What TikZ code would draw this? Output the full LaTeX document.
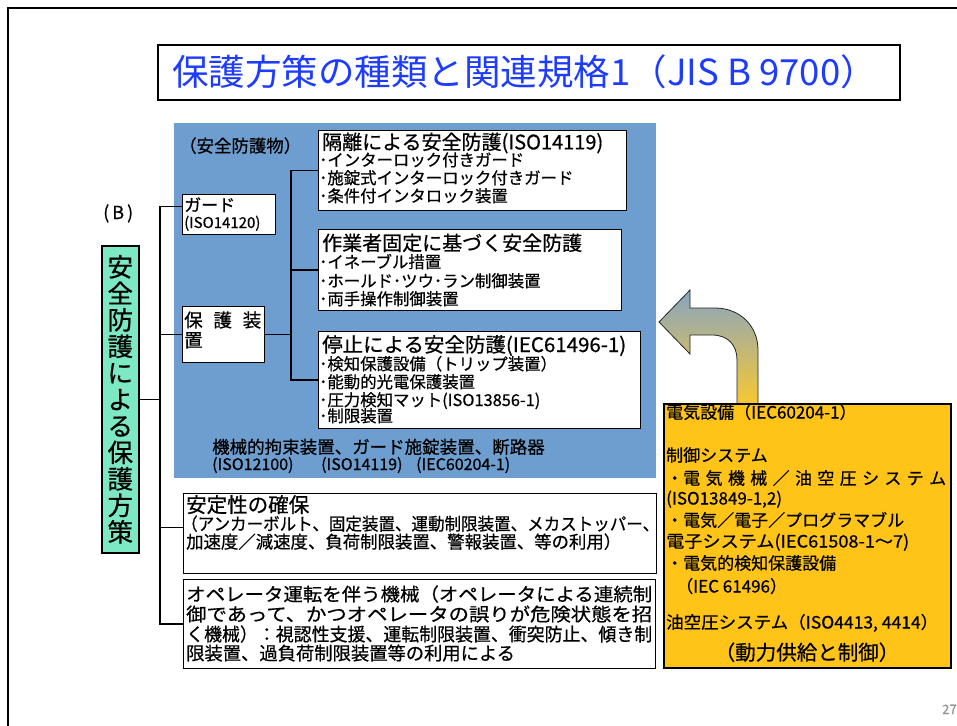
\documentclass[tikz,border=0pt]{standalone}
\usepackage{fontspec}
\setmainfont{Noto Sans CJK JP}[FakeBold=0.6]
\newfontfamily\titlefont{Noto Sans CJK JP}
\usepackage{graphicx}
\definecolor{panelblue}{RGB}{109,158,207}
\definecolor{mint}{RGB}{124,232,196}
\definecolor{gold}{RGB}{255,196,23}
\definecolor{titleblue}{RGB}{30,60,255}
\definecolor{arrowtop}{RGB}{135,165,195}
\definecolor{arrowbot}{RGB}{248,200,50}
\definecolor{pagegray}{RGB}{150,150,150}
\tikzset{
  box/.style={draw=black, fill=white, line width=1pt, inner sep=0pt, anchor=north west},
  conn/.style={draw=black, line width=1.1pt},
  tx/.style={anchor=base west, inner sep=0pt},
}
\newcommand\fs[1]{\fontsize{#1}{#1}\selectfont}
\newcommand\hw[2]{\resizebox{#1pt}{\height}{#2}}
\begin{document}
\begin{tikzpicture}[x=1pt,y=-1pt]
\useasboundingbox (0,0) rectangle (957,725);
\fill[white] (0,0) rectangle (957,725);
\draw[line width=2.2pt] (8,740) -- (8,8) -- (970,8);

% title
\node[draw, line width=2.2pt, minimum width=742pt, minimum height=55pt, inner sep=0pt, anchor=north west] (titlebox) at (157,44) {};
\node[anchor=base, inner sep=0pt, text=titleblue, font=\titlefont\fs{36}] (title) at (524.5,85) {\hw{705}{保護方策の種類と関連規格1（JIS B 9700）}};

% panel
\node[fill=panelblue, minimum width=482pt, minimum height=355pt, inner sep=0pt, anchor=north west] (panel) at (174,123) {};

% boxes
\node[box, minimum width=308pt, minimum height=80pt] (kakuri) at (318,130) {};
\node[box, minimum width=93pt, minimum height=40pt] (guard) at (182,194) {};
\node[box, minimum width=303pt, minimum height=81pt] (sagyo) at (318,229) {};
\node[box, minimum width=82pt, minimum height=56pt] (hogo) at (182,306) {};
\node[box, minimum width=322pt, minimum height=97pt] (teishi) at (318,331) {};
\node[box, minimum width=473pt, minimum height=80pt] (antei) at (183,493) {};
\node[box, minimum width=472pt, minimum height=89pt] (ope) at (183,579) {};

% arrow
\shadedraw[top color=arrowtop, bottom color=arrowbot, draw=black!85, line width=0.8pt]
  (737,404) -- (737,360) .. controls (737,345) and (728,335) .. (712,335) -- (690,335)
  -- (690,354) -- (659,322) -- (690,290) -- (690,308) -- (715,308)
  .. controls (740,308) and (758,326) .. (758,350) -- (758,404) -- cycle;

\node[draw=black, fill=gold, line width=1.5pt, minimum width=287pt, minimum height=264pt, inner sep=0pt, anchor=north west] (yellow) at (663,403) {};
\node[draw=black, fill=mint, line width=1.6pt, minimum width=37pt, minimum height=307pt, inner sep=0pt, anchor=north west] (green) at (101,245) {};
\node[align=center, inner sep=0pt, font=\fontsize{25.5}{26.5}\selectfont] (greentext) at (green.center) {安\\全\\防\\護\\に\\よ\\る\\保\\護\\方\\策};

% connectors
\coordinate (trunkL) at (160,0);
\coordinate (trunkR) at (291,0);
\draw[conn] (green.east) -- (green.east -| trunkL);
\draw[conn] ([yshift=8pt]guard.west) -| (trunkL |- ope.west) -- (ope.west);
\draw[conn] (hogo.west) -- (hogo.west -| trunkL);
\draw[conn] ([yshift=6pt]antei.west) -- ([yshift=6pt]antei.west -| trunkL);
\draw[conn] (kakuri.west) -| (trunkR |- teishi.west) -- (teishi.west);
\draw[conn] (sagyo.west) -- (sagyo.west -| trunkR);
\draw[conn] (hogo.east) -- (hogo.east -| trunkR);

% texts
\node[tx, font=\fs{18}] (tB) at (103,219) {(\,B\,)};
\node[tx, font=\fs{17.5}] (t1) at (179,152.3) {\hw{122}{（安全防護物）}};
\node[tx, font=\fs{20}] (t2) at (322,149.4) {隔離による安全防護(ISO14119)};
\node[tx, font=\fs{16.4}] (t3) at (319,166) {･インターロック付きガード};
\node[tx, font=\fs{16.4}] (t4) at (319,184) {･施錠式インターロック付きガード};
\node[tx, font=\fs{16.4}] (t5) at (319,202) {･条件付インタロック装置};
\node[tx, font=\fs{17}] (t6) at (184,211.3) {ガード};
\node[tx, font=\fs{15}] (t7) at (184,228) {(ISO14120)};
\node[tx, font=\fs{20}] (t8) at (322,250.4) {作業者固定に基づく安全防護};
\node[tx, font=\fs{16.4}] (t9) at (319,268) {･イネーブル措置};
\node[tx, font=\fs{16.4}] (t10) at (319,287) {･ホールド･ツウ･ラン制御装置};
\node[tx, font=\fs{16.4}] (t11) at (319,305) {･両手操作制御装置};
\node[tx, font=\fs{18.5}] (t12) at (184,327) {\makebox[77pt][s]{保 護 装}};
\node[tx, font=\fs{18.5}] (t13) at (184,347) {置};
\node[tx, font=\fs{20}] (t14) at (322,352) {\hw{304}{停止による安全防護(IEC61496-1)}};
\node[tx, font=\fs{16.4}] (t15) at (319,370) {･検知保護設備（トリップ装置）};
\node[tx, font=\fs{16.4}] (t16) at (319,388) {･能動的光電保護装置};
\node[tx, font=\fs{16.4}] (t17) at (319,406) {･圧力検知マット(ISO13856-1)};
\node[tx, font=\fs{16.4}] (t18) at (319,422) {･制限装置};
\node[tx, font=\fs{17.5}] (t19) at (212,453.5) {機械的拘束装置、ガード施錠装置、断路器};
\node[tx, font=\fs{16}] (t20) at (212,470) {\makebox[109pt][l]{(ISO12100)}\makebox[95pt][l]{(ISO14119)}(IEC60204-1)};
\node[tx, font=\fs{20.5}] (t21) at (186,512.4) {安定性の確保};
\node[tx, font=\fs{17.4}] (t22) at (181,530.3) {\hw{478}{（アンカーボルト、固定装置、運動制限装置、メカストッパー、}};
\node[tx, font=\fs{17.4}] (t23) at (186,548.3) {加速度／減速度、負荷制限装置、警報装置、等の利用）};
\node[tx, font=\fs{18.3}] (t24) at (186,601) {\hw{466}{オペレータ運転を伴う機械（オペレータによる連続制}};
\node[tx, font=\fs{18.3}] (t25) at (186,621) {\hw{466}{御であって、かつオペレータの誤りが危険状態を招}};
\node[tx, font=\fs{18.3}] (t26) at (186,641) {\hw{466}{く機械）：視認性支援、運転制限装置、衝突防止、傾き制}};
\node[tx, font=\fs{18.3}] (t27) at (186,660) {限装置、過負荷制限装置等の利用による};
\node[tx, font=\fs{17}] (y1) at (666,418.5) {電気設備（IEC60204-1）};
\node[tx, font=\fs{17}] (y2) at (666,461.5) {制御システム};
\node[tx, font=\fs{17}] (y3) at (666,484.5) {\makebox[280pt][s]{・電 気 機 械 ／ 油 空 圧 シ ス テ ム}};
\node[tx, font=\fs{17}] (y4) at (666,504.5) {(ISO13849-1,2)};
\node[tx, font=\fs{17}] (y5) at (666,526.5) {・電気／電子／プログラマブル};
\node[tx, font=\fs{17}] (y6) at (666,547.5) {\hw{243}{電子システム(IEC61508-1～7)}};
\node[tx, font=\fs{17}] (y7) at (666,569.5) {・電気的検知保護設備};
\node[tx, font=\fs{17}] (y8) at (676,592.5) {（IEC 61496）};
\node[tx, font=\fs{17}] (y9) at (666,628.5) {\hw{272}{油空圧システム（ISO4413, 4414）}};
\node[anchor=base, inner sep=0pt, font=\fs{20.5}] (y10) at (807,660) {（動力供給と制御）};
\node[tx, font=\fs{13}, text=pagegray] (pg) at (942,714) {27};
\end{tikzpicture}
\end{document}
